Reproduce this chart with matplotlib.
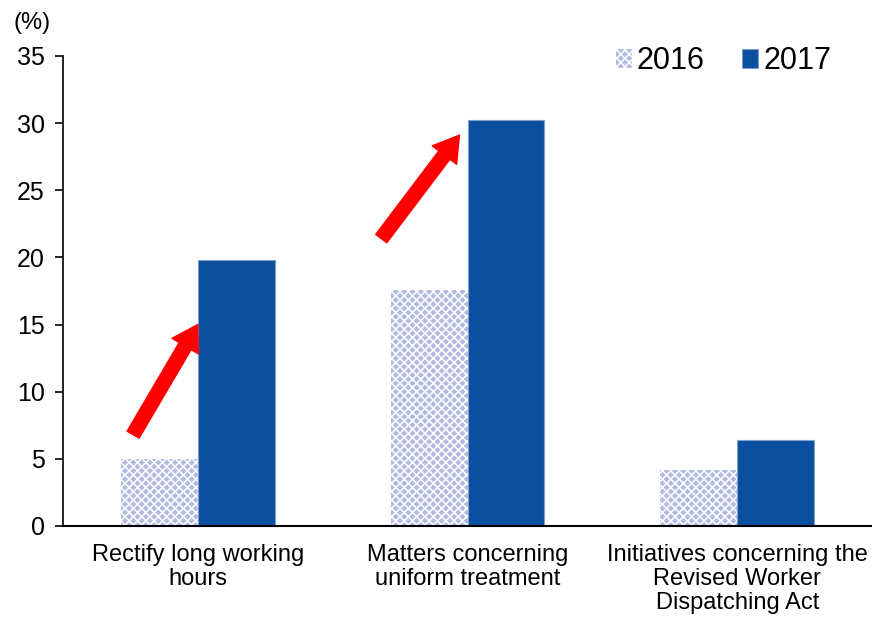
import numpy as np
from matplotlib import pyplot as plt

# Share of companies (%) by topic, 2016 vs 2017
categories = ["Rectify long working\nhours",
              "Matters concerning\nuniform treatment",
              "Initiatives concerning the\nRevised Worker\nDispatching Act"]
values_2016 = [5.0, 17.6, 4.2]
values_2017 = [19.8, 30.2, 6.4]
y_ticks = [0, 5, 10, 15, 20, 25, 30, 35]

# Red "increase" arrows: (tail x, tail y, head x, head y) in data units
arrows = [(-0.24, 6.8, 0.0, 15.0),
          (0.68, 21.4, 0.97, 29.1)]

plt.rcParams["font.family"] = ["Liberation Sans", "DejaVu Sans"]
plt.rcParams["hatch.linewidth"] = 1.1

fig = plt.figure(figsize=(8.72, 6.21), dpi=100)
ax = fig.add_axes([0.0722, 0.153, 0.928, 0.757])

x = np.arange(len(categories))
w = 0.285
ax.bar(x - w / 2, values_2016, w, color="#b3bbe0", edgecolor="white",
       hatch="xxxx", linewidth=0, label="2016")
ax.bar(x + w / 2, values_2017, w, color="#0b4f9f", edgecolor="#7f9fcc",
       linewidth=0.8, label="2017")

for x0, y0, x1, y1 in arrows:
    ax.annotate("", xy=(x1, y1), xytext=(x0, y0),
                arrowprops=dict(arrowstyle="simple,head_width=2.2,head_length=1.8,tail_width=1.0",
                                color="red", mutation_scale=10, shrinkA=0, shrinkB=0))

ax.set_xlim(-0.5, 2.5)
ax.set_ylim(0, 35)
ax.set_yticks(y_ticks)
ax.set_xticks(x)
ax.set_xticklabels(categories, fontsize=17, linespacing=1.12)
ax.tick_params(axis="y", labelsize=18, length=6, width=1.2, direction="out", pad=7)
ax.tick_params(axis="x", length=0, pad=13)
for side in ["top", "right"]:
    ax.spines[side].set_visible(False)
ax.spines["left"].set_linewidth(1.2)
ax.spines["bottom"].set_linewidth(1.5)

fig.text(0.016, 0.963, "(%)", fontsize=17, va="center")

ax.legend(loc="upper right", bbox_to_anchor=(0.967, 0.945), bbox_transform=fig.transFigure,
          borderaxespad=0, ncol=2, fontsize=22, frameon=False,
          handlelength=0.55, handleheight=0.55, handletextpad=0.15, columnspacing=1.2)

fig.savefig("out.png", dpi=100)
